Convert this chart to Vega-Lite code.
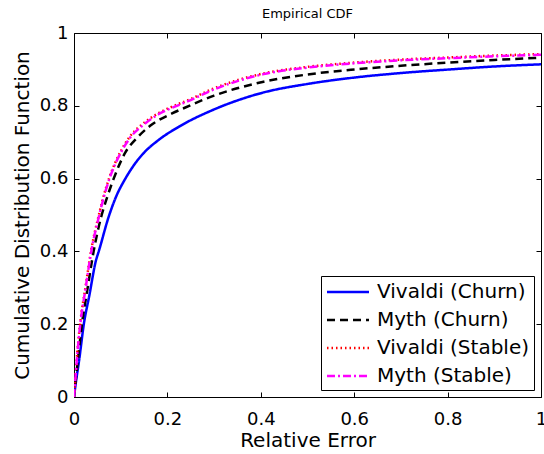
{
  "$schema": "https://vega.github.io/schema/vega-lite/v6.json",
  "width": 467,
  "height": 364,
  "autosize": {"type": "none"},
  "padding": {"left": 74, "top": 33, "right": 3, "bottom": 57},
  "background": "white",
  "config": {
    "view": {"stroke": "black", "strokeWidth": 1},
    "font": "DejaVu Sans",
    "axis": {
      "domain": false,
      "grid": false,
      "tickColor": "black",
      "tickSize": -5,
      "tickWidth": 1,
      "labelColor": "black",
      "labelFont": "DejaVu Sans",
      "labelFontSize": 18,
      "titleFont": "DejaVu Sans",
      "titleFontSize": 20,
      "titleFontWeight": "normal",
      "titleColor": "black",
      "labelFlush": false,
      "labelOverlap": false
    }
  },
  "title": {
    "text": "Empirical CDF",
    "font": "DejaVu Sans",
    "fontSize": 13,
    "fontWeight": "normal",
    "color": "black",
    "anchor": "middle",
    "frame": "group",
    "baseline": "alphabetic",
    "offset": -7
  },
  "data": {
    "values": [
      {"series": "Vivaldi (Churn)", "x": 0, "y": 0},
      {"series": "Vivaldi (Churn)", "x": 0.004, "y": 0.04},
      {"series": "Vivaldi (Churn)", "x": 0.011, "y": 0.101},
      {"series": "Vivaldi (Churn)", "x": 0.021, "y": 0.2},
      {"series": "Vivaldi (Churn)", "x": 0.033, "y": 0.28},
      {"series": "Vivaldi (Churn)", "x": 0.047, "y": 0.375},
      {"series": "Vivaldi (Churn)", "x": 0.053, "y": 0.4},
      {"series": "Vivaldi (Churn)", "x": 0.074, "y": 0.494},
      {"series": "Vivaldi (Churn)", "x": 0.09, "y": 0.55},
      {"series": "Vivaldi (Churn)", "x": 0.11, "y": 0.6},
      {"series": "Vivaldi (Churn)", "x": 0.13, "y": 0.64},
      {"series": "Vivaldi (Churn)", "x": 0.149, "y": 0.67},
      {"series": "Vivaldi (Churn)", "x": 0.18, "y": 0.705},
      {"series": "Vivaldi (Churn)", "x": 0.228, "y": 0.745},
      {"series": "Vivaldi (Churn)", "x": 0.3, "y": 0.79},
      {"series": "Vivaldi (Churn)", "x": 0.407, "y": 0.837},
      {"series": "Vivaldi (Churn)", "x": 0.5, "y": 0.86},
      {"series": "Vivaldi (Churn)", "x": 0.603, "y": 0.878},
      {"series": "Vivaldi (Churn)", "x": 0.7, "y": 0.89},
      {"series": "Vivaldi (Churn)", "x": 0.806, "y": 0.9},
      {"series": "Vivaldi (Churn)", "x": 0.9, "y": 0.908},
      {"series": "Vivaldi (Churn)", "x": 1.0, "y": 0.914},
      {"series": "Myth (Churn)", "x": 0, "y": 0},
      {"series": "Myth (Churn)", "x": 0.004, "y": 0.05},
      {"series": "Myth (Churn)", "x": 0.009, "y": 0.11},
      {"series": "Myth (Churn)", "x": 0.017, "y": 0.2},
      {"series": "Myth (Churn)", "x": 0.028, "y": 0.29},
      {"series": "Myth (Churn)", "x": 0.042, "y": 0.4},
      {"series": "Myth (Churn)", "x": 0.058, "y": 0.494},
      {"series": "Myth (Churn)", "x": 0.07, "y": 0.545},
      {"series": "Myth (Churn)", "x": 0.085, "y": 0.6},
      {"series": "Myth (Churn)", "x": 0.11, "y": 0.672},
      {"series": "Myth (Churn)", "x": 0.135, "y": 0.712},
      {"series": "Myth (Churn)", "x": 0.163, "y": 0.745},
      {"series": "Myth (Churn)", "x": 0.21, "y": 0.779},
      {"series": "Myth (Churn)", "x": 0.236, "y": 0.794},
      {"series": "Myth (Churn)", "x": 0.3, "y": 0.828},
      {"series": "Myth (Churn)", "x": 0.406, "y": 0.866},
      {"series": "Myth (Churn)", "x": 0.5, "y": 0.886},
      {"series": "Myth (Churn)", "x": 0.603, "y": 0.9},
      {"series": "Myth (Churn)", "x": 0.7, "y": 0.91},
      {"series": "Myth (Churn)", "x": 0.806, "y": 0.919},
      {"series": "Myth (Churn)", "x": 0.9, "y": 0.926},
      {"series": "Myth (Churn)", "x": 1.0, "y": 0.932},
      {"series": "Vivaldi (Stable)", "x": 0, "y": 0},
      {"series": "Vivaldi (Stable)", "x": 0.003, "y": 0.055},
      {"series": "Vivaldi (Stable)", "x": 0.006, "y": 0.106},
      {"series": "Vivaldi (Stable)", "x": 0.0135, "y": 0.205},
      {"series": "Vivaldi (Stable)", "x": 0.025, "y": 0.305},
      {"series": "Vivaldi (Stable)", "x": 0.037, "y": 0.405},
      {"series": "Vivaldi (Stable)", "x": 0.053, "y": 0.499},
      {"series": "Vivaldi (Stable)", "x": 0.064, "y": 0.555},
      {"series": "Vivaldi (Stable)", "x": 0.076, "y": 0.604},
      {"series": "Vivaldi (Stable)", "x": 0.101, "y": 0.677},
      {"series": "Vivaldi (Stable)", "x": 0.12, "y": 0.716},
      {"series": "Vivaldi (Stable)", "x": 0.146, "y": 0.749},
      {"series": "Vivaldi (Stable)", "x": 0.18, "y": 0.779},
      {"series": "Vivaldi (Stable)", "x": 0.22, "y": 0.803},
      {"series": "Vivaldi (Stable)", "x": 0.243, "y": 0.815},
      {"series": "Vivaldi (Stable)", "x": 0.3, "y": 0.848},
      {"series": "Vivaldi (Stable)", "x": 0.406, "y": 0.889},
      {"series": "Vivaldi (Stable)", "x": 0.5, "y": 0.907},
      {"series": "Vivaldi (Stable)", "x": 0.603, "y": 0.919},
      {"series": "Vivaldi (Stable)", "x": 0.7, "y": 0.927},
      {"series": "Vivaldi (Stable)", "x": 0.806, "y": 0.933},
      {"series": "Vivaldi (Stable)", "x": 0.9, "y": 0.938},
      {"series": "Vivaldi (Stable)", "x": 1.0, "y": 0.942},
      {"series": "Myth (Stable)", "x": 0, "y": 0},
      {"series": "Myth (Stable)", "x": 0.003, "y": 0.05},
      {"series": "Myth (Stable)", "x": 0.006, "y": 0.101},
      {"series": "Myth (Stable)", "x": 0.0135, "y": 0.2},
      {"series": "Myth (Stable)", "x": 0.025, "y": 0.3},
      {"series": "Myth (Stable)", "x": 0.037, "y": 0.4},
      {"series": "Myth (Stable)", "x": 0.053, "y": 0.494},
      {"series": "Myth (Stable)", "x": 0.064, "y": 0.55},
      {"series": "Myth (Stable)", "x": 0.076, "y": 0.6},
      {"series": "Myth (Stable)", "x": 0.101, "y": 0.673},
      {"series": "Myth (Stable)", "x": 0.12, "y": 0.712},
      {"series": "Myth (Stable)", "x": 0.146, "y": 0.745},
      {"series": "Myth (Stable)", "x": 0.18, "y": 0.776},
      {"series": "Myth (Stable)", "x": 0.22, "y": 0.8},
      {"series": "Myth (Stable)", "x": 0.243, "y": 0.812},
      {"series": "Myth (Stable)", "x": 0.3, "y": 0.845},
      {"series": "Myth (Stable)", "x": 0.406, "y": 0.887},
      {"series": "Myth (Stable)", "x": 0.5, "y": 0.905},
      {"series": "Myth (Stable)", "x": 0.603, "y": 0.917},
      {"series": "Myth (Stable)", "x": 0.7, "y": 0.925},
      {"series": "Myth (Stable)", "x": 0.806, "y": 0.931},
      {"series": "Myth (Stable)", "x": 0.9, "y": 0.936},
      {"series": "Myth (Stable)", "x": 1.0, "y": 0.94}
    ]
  },
  "resolve": {"axis": {"x": "independent", "y": "independent"}},
  "layer": [
    {
      "mark": {"type": "line", "strokeCap": "butt", "clip": true, "interpolate": "monotone"},
      "encoding": {
        "x": {
          "field": "x", "type": "quantitative",
          "scale": {"domain": [0, 1], "nice": false, "zero": false},
          "axis": {"title": "Relative Error", "values": [0, 0.2, 0.4, 0.6, 0.8, 1], "format": ".1~f", "labelPadding": 18, "titlePadding": 2}
        },
        "y": {
          "field": "y", "type": "quantitative",
          "scale": {"domain": [0, 1], "nice": false, "zero": false},
          "axis": {"title": "Cumulative Distribution Function", "values": [0, 0.2, 0.4, 0.6, 0.8, 1], "format": ".1~f", "labelPadding": 11, "titlePadding": 7}
        },
        "order": {"field": "x", "type": "quantitative"},
        "detail": {"field": "series"},
        "color": {
          "field": "series", "type": "nominal",
          "scale": {
            "domain": ["Vivaldi (Churn)", "Myth (Churn)", "Vivaldi (Stable)", "Myth (Stable)"],
            "range": ["#0000ff", "#000000", "#ff0000", "#ff00ff"]
          },
          "legend": {
            "title": null,
            "orient": "none",
            "legendX": 247,
            "legendY": 243,
            "strokeColor": "black",
            "fillColor": "white",
            "padding": 4,
            "symbolType": "M-2,0H2",
            "symbolSize": 441,
            "symbolStrokeWidth": 2.5,
            "symbolOffset": 11,
            "labelFont": "DejaVu Sans",
            "labelFontSize": 20,
            "labelColor": "black",
            "labelOffset": 17,
            "rowPadding": 6,
            "labelLimit": 300
          }
        },
        "strokeDash": {
          "field": "series", "type": "nominal",
          "scale": {
            "domain": ["Vivaldi (Churn)", "Myth (Churn)", "Vivaldi (Stable)", "Myth (Stable)"],
            "range": [[1, 0], [8, 5], [1.5, 3], [8, 3, 2, 3]]
          },
          "legend": null
        },
        "strokeWidth": {"value": 2.5}
      }
    },
    {
      "mark": {"type": "line", "opacity": 0},
      "encoding": {
        "x": {
          "field": "x", "type": "quantitative",
          "scale": {"domain": [0, 1], "nice": false, "zero": false},
          "axis": {"orient": "top", "title": null, "labels": false, "values": [0, 0.2, 0.4, 0.6, 0.8, 1]}
        },
        "y": {
          "field": "y", "type": "quantitative",
          "scale": {"domain": [0, 1], "nice": false, "zero": false},
          "axis": {"orient": "right", "title": null, "labels": false, "values": [0, 0.2, 0.4, 0.6, 0.8, 1]}
        },
        "detail": {"field": "series"}
      }
    }
  ]
}
